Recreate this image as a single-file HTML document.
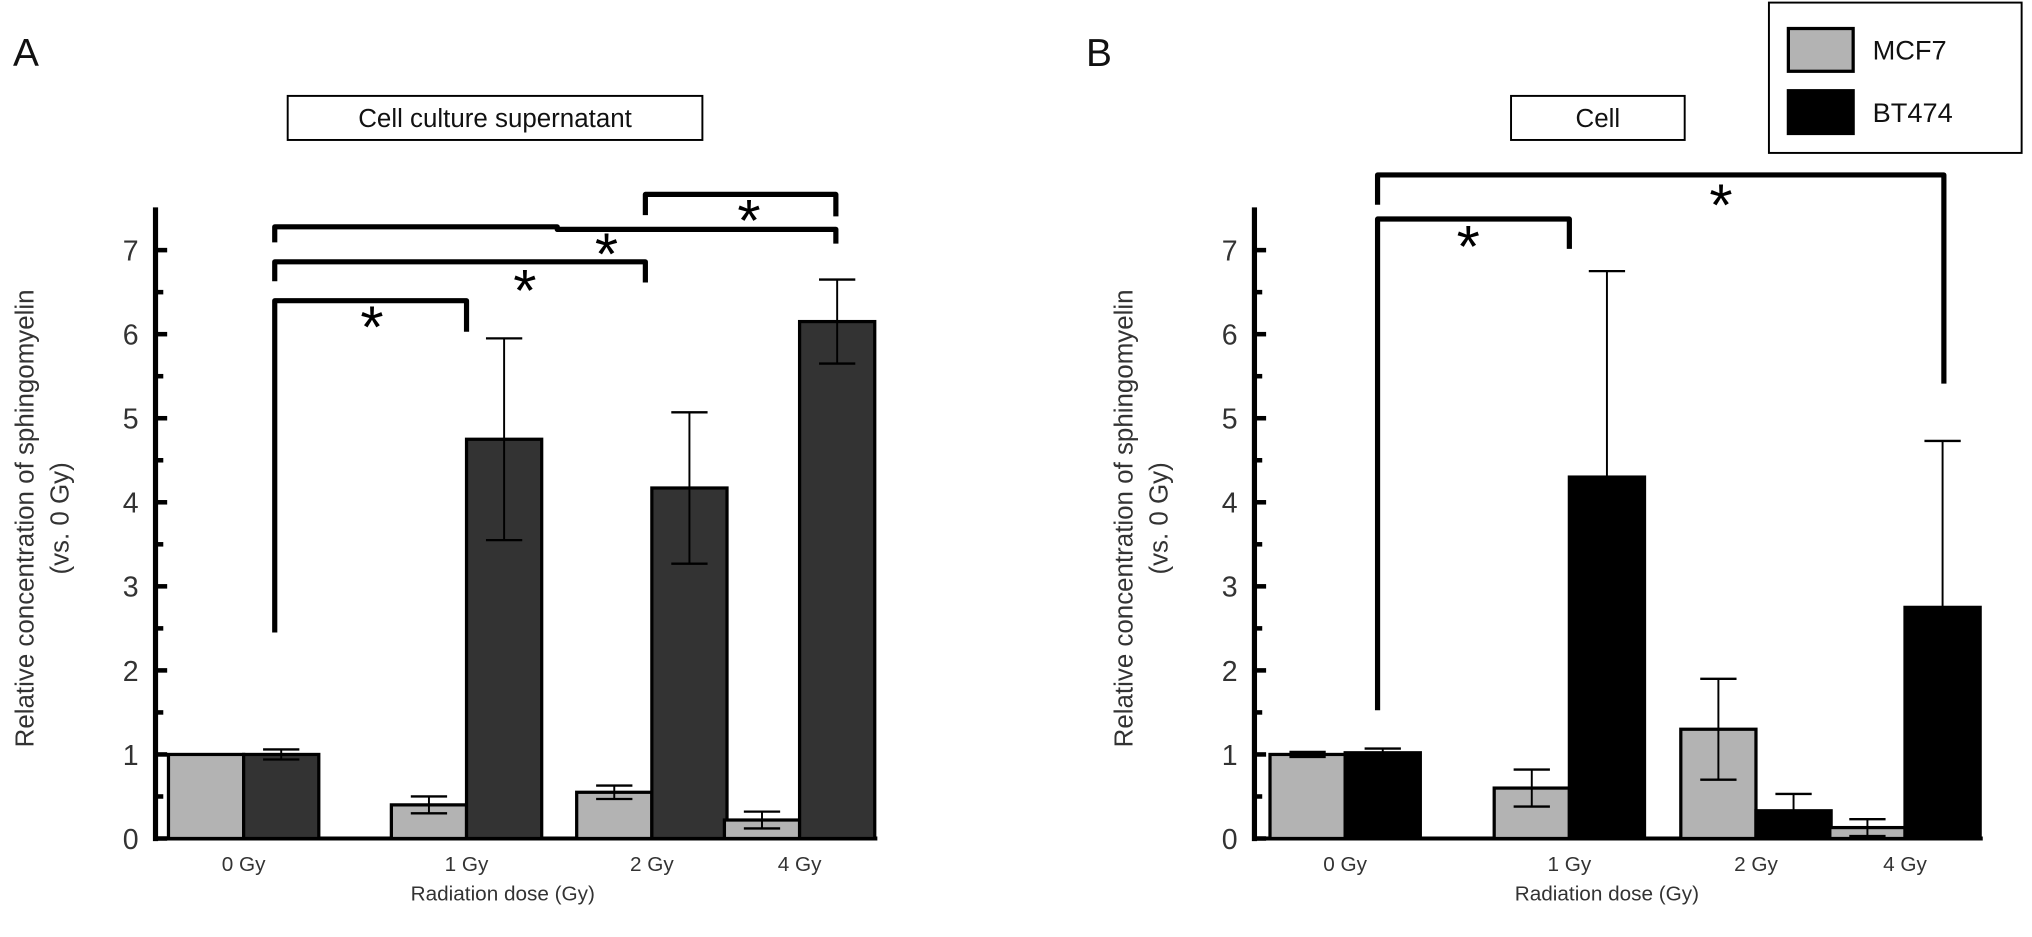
<!DOCTYPE html>
<html><head><meta charset="utf-8"><style>
html,body{margin:0;padding:0;background:#fff;}
svg{display:block;font-family:"Liberation Sans",Arial,sans-serif;}
</style></head><body>
<svg id="fig" width="2032" height="937" viewBox="0 0 1568 723" preserveAspectRatio="none">
</svg>
<script>
const categories = ["0 Gy","1 Gy","2 Gy","4 Gy"];
const yTicks = [0,1,2,3,4,5,6,7];
const seriesNames = ["MCF7","BT474"];
const aMcf7 = [1.0, 0.40, 0.55, 0.22];
const aMcf7Err = [0.0, 0.10, 0.08, 0.10];
const aBt474 = [1.0, 4.75, 4.17, 6.15];
const aBt474Err = [0.06, 1.20, 0.90, 0.50];
const bMcf7 = [1.0, 0.60, 1.30, 0.13];
const bMcf7Err = [0.03, 0.22, 0.60, 0.10];
const bBt474 = [1.02, 4.30, 0.33, 2.75];
const bBt474Err = [0.05, 2.45, 0.20, 1.98];

const NS="http://www.w3.org/2000/svg";
const svg=document.getElementById('fig');
function mk(tag,attrs,parent){const e=document.createElementNS(NS,tag);for(const k in attrs)e.setAttribute(k,attrs[k]);(parent||svg).appendChild(e);return e;}

function panel(cfg){
  const g=mk('g',{});
  
  
  const y0=647, unit=(647-193)/7;
  const yScale=v=>y0-v*unit;
  const ax=cfg.axisX;
  const yl=mk('line',{x1:ax,y1:160,x2:ax,y2:y0+2,stroke:'#000','stroke-width':4},g);
  
  
  for(let i=0;i<=14;i++){
    const v=i/2;const y=yScale(v);
    mk('line',{x1:ax,y1:y,x2:ax+(i%2?6:9),y2:y,stroke:'#000','stroke-width':3.5},g);
  }
  yTicks.forEach(t=>{
    const tx=mk('text',{x:ax-13,y:yScale(t)+8,'font-size':22,'text-anchor':'end',fill:'#333'},g);
    tx.textContent=t;
    
    
  });
  const yt=mk('text',{transform:`translate(${cfg.ytX},400) rotate(-90)`,'font-size':20,'text-anchor':'middle',fill:'#333'},g);
  yt.textContent='Relative concentration of sphingomyelin';
  
  
  const yt2=mk('text',{transform:`translate(${cfg.ytX+27},400) rotate(-90)`,'font-size':20,'text-anchor':'middle',fill:'#333'},g);
  yt2.textContent='(vs. 0 Gy)';
  
  
  const bw=58;
  const bl=mk('line',{x1:ax,y1:y0,x2:cfg.centers[3]+bw+2,y2:y0,stroke:'#000','stroke-width':3},g);
  
  
  categories.forEach((c,i)=>{
    const cx=cfg.centers[i];
    [[cfg.m,cfg.mErr,cx-bw,'#b3b3b3','mcf7'],[cfg.b,cfg.bErr,cx,cfg.darkColor,'bt474']].forEach(([vals,errs,x,col,nm])=>{
      const v=vals[i],e=errs[i];
      const r=mk('rect',{x:x,y:yScale(v),width:bw,height:y0-yScale(v),fill:col,stroke:'#000','stroke-width':2.5},g);
      
      
      if(e>0){
        const mx=x+bw/2;
        mk('line',{x1:mx,y1:yScale(v+e),x2:mx,y2:yScale(v-e),stroke:'#000','stroke-width':1.5},g);
        mk('line',{x1:mx-14,y1:yScale(v+e),x2:mx+14,y2:yScale(v+e),stroke:'#000','stroke-width':1.8},g);
        mk('line',{x1:mx-14,y1:yScale(v-e),x2:mx+14,y2:yScale(v-e),stroke:'#000','stroke-width':1.8},g);
      }
    });
    const t=mk('text',{x:cx,y:672,'font-size':16,'text-anchor':'middle',fill:'#333'},g);
    t.textContent=c;
    
    
  });
  const xt=mk('text',{x:cfg.xtX,y:695,'font-size':16,'text-anchor':'middle',fill:'#333'},g);
  xt.textContent='Radiation dose (Gy)';
  
  
  const pl=mk('text',{x:cfg.letterX,y:51,'font-size':30,fill:'#111'},g);
  pl.textContent=cfg.letter;
  
  
  const tb=mk('rect',{x:cfg.tbox[0],y:74,width:cfg.tbox[1],height:34,fill:'#fff',stroke:'#000','stroke-width':1.5},g);
  
  
  const tt=mk('text',{x:cfg.tbox[0]+cfg.tbox[1]/2,y:98,'font-size':20,'text-anchor':'middle',fill:'#111'},g);
  tt.textContent=cfg.title;
  
  
  cfg.brackets.forEach(bk=>{
    const p=mk('path',{d:bk.d,fill:'none',stroke:'#000','stroke-width':4,'stroke-linejoin':'round'},g);
    
    
    const s=mk('text',{x:bk.sx,y:bk.sy+28,'font-size':46,'text-anchor':'middle',fill:'#000'},g);
    s.textContent='*';
    
    
  });
}

panel({name:'panel-a',axisX:120,ytX:26,centers:[188,360,503,617],m:aMcf7,mErr:aMcf7Err,b:aBt474,bErr:aBt474Err,darkColor:'#333333',
  xtX:388,letter:'A',letterX:10,tbox:[222,320],title:'Cell culture supernatant',
  brackets:[
    {d:'M212,488 L212,232 L360,232 L360,256',sx:287,sy:240},
    {d:'M212,217 L212,202 L498,202 L498,218',sx:405,sy:212},
    {d:'M212,187 L212,175 L430,175 L430,177 L645,177 L645,188',sx:468,sy:184},
    {d:'M498,166 L498,150 L645,150 L645,167',sx:578,sy:158}
  ]});
panel({name:'panel-b',axisX:968,ytX:874,centers:[1038,1211,1355,1470],m:bMcf7,mErr:bMcf7Err,b:bBt474,bErr:bBt474Err,darkColor:'#000000',
  xtX:1240,letter:'B',letterX:838,tbox:[1166,134],title:'Cell',
  brackets:[
    {d:'M1063,548 L1063,169 L1211,169 L1211,192',sx:1133,sy:178},
    {d:'M1063,158 L1063,135 L1500,135 L1500,296',sx:1328,sy:146}
  ]});

const lg=mk('g',{});


mk('rect',{x:1365,y:2,width:195,height:116,fill:'#fff',stroke:'#000','stroke-width':1.5},lg);
[['#b3b3b3',22,seriesNames[0]],['#000',70,seriesNames[1]]].forEach(([c,y,n])=>{
  const r=mk('rect',{x:1380,y:y,width:50,height:33,fill:c,stroke:'#000','stroke-width':2.5},lg);
  
  
  const t=mk('text',{x:1445,y:y+24,'font-size':21,fill:'#111'},lg);
  t.textContent=n;
  
  
});
</script>
</body></html>
